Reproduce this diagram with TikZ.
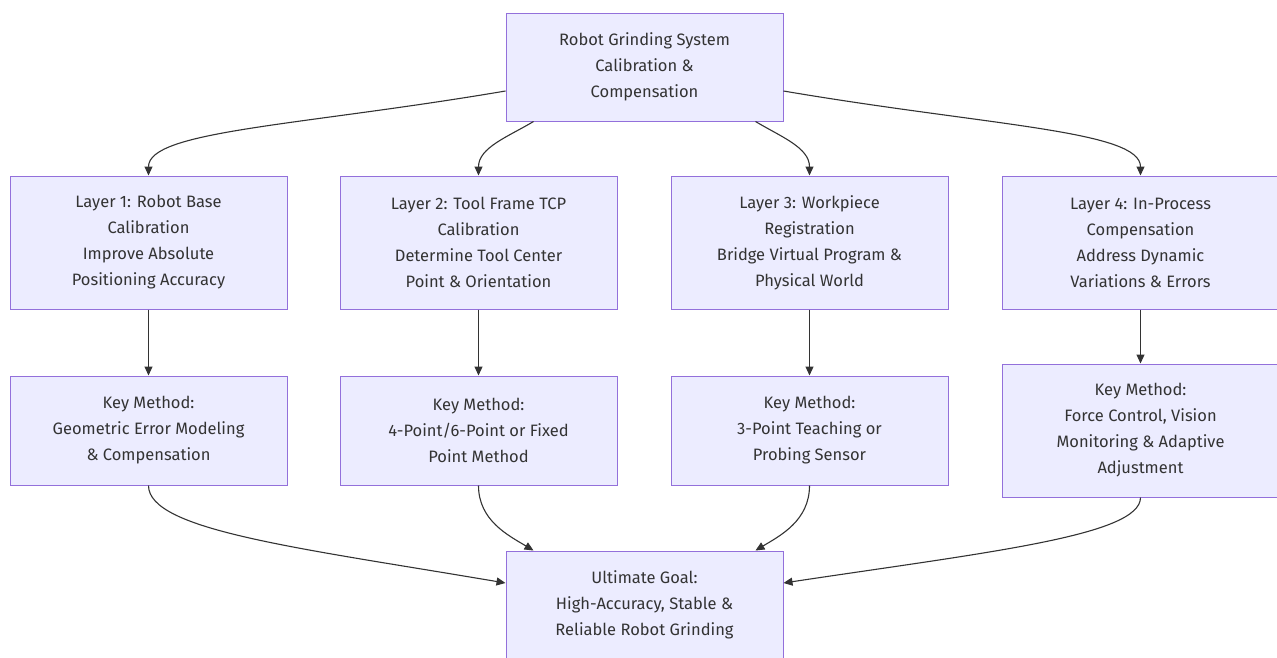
\documentclass[tikz,border=0pt]{standalone}
\usepackage{fontspec}
\setmainfont{Fira Sans}
\usetikzlibrary{arrows.meta}

\definecolor{boxfill}{HTML}{ECECFF}
\definecolor{boxline}{HTML}{9370DB}
\definecolor{txt}{HTML}{333333}

\tikzset{
  box/.style={draw=boxline, fill=boxfill, line width=1pt, text=txt,
    minimum width=277pt, align=center, inner sep=0pt,
    font=\fontsize{16.5}{26}\selectfont},
  link/.style={draw=txt, line width=1.1pt,
    -{Triangle[length=9pt,width=8pt]}}
}

\begin{document}
\begin{tikzpicture}[x=1pt,y=-1pt]
\useasboundingbox (0,0) rectangle (1277,657);

% Top
\node[box, minimum height=108pt] (top) at (644.5,67) {Robot Grinding System\\Calibration \&\\Compensation};

% Layers
\node[box, minimum height=133pt] (l1) at (148.5,242.5) {Layer 1: Robot Base\\Calibration\\Improve Absolute\\Positioning Accuracy};
\node[box, minimum height=133pt] (l2) at (478.5,242.5) {Layer 2: Tool Frame TCP\\Calibration\\Determine Tool Center\\Point \& Orientation};
\node[box, minimum height=133pt] (l3) at (809.5,242.5) {Layer 3: Workpiece\\Registration\\Bridge Virtual Program \&\\Physical World};
\node[box, minimum height=133pt] (l4) at (1140.5,242.5) {Layer 4: In-Process\\Compensation\\Address Dynamic\\Variations \& Errors};

% Key methods
\node[box, minimum height=109pt] (k1) at (148.5,430.5) {Key Method:\\Geometric Error Modeling\\\& Compensation};
\node[box, minimum height=109pt] (k2) at (478.5,430.5) {Key Method:\\4-Point/6-Point or Fixed\\Point Method};
\node[box, minimum height=109pt] (k3) at (809.5,430.5) {Key Method:\\3-Point Teaching or\\Probing Sensor};
\node[box, minimum height=133pt] (k4) at (1140.5,430.5) {Key Method:\\Force Control, Vision\\Monitoring \& Adaptive\\Adjustment};

% Goal
\node[box, minimum height=108pt] (goal) at (644.5,605) {Ultimate Goal:\\High-Accuracy, Stable \&\\Reliable Robot Grinding};

% Top to layers
\draw[link] ([yshift=-24pt]top.west) .. controls +(-206,35) and +(0,-45) .. (l1.north);
\draw[link] ([xshift=-111pt]top.south) .. controls +(-25,15) and +(0,-28) .. (l2.north);
\draw[link] ([xshift=111pt]top.south) .. controls +(25,15) and +(0,-28) .. (l3.north);
\draw[link] ([yshift=-24pt]top.east) .. controls +(206,35) and +(0,-45) .. (l4.north);

% Layers to key methods
\draw[link] (l1) -- (k1);
\draw[link] (l2) -- (k2);
\draw[link] (l3) -- (k3);
\draw[link] (l4) -- (k4);

% Key methods to goal
\draw[link] (k1.south) .. controls +(0,45) and +(-206,-35) .. ([yshift=22pt]goal.west);
\draw[link] (k2.south) .. controls +(0,35) and +(-25,-15) .. ([xshift=-111pt]goal.north);
\draw[link] (k3.south) .. controls +(0,35) and +(25,-15) .. ([xshift=111pt]goal.north);
\draw[link] (k4.south) .. controls +(0,38) and +(206,-31) .. ([yshift=22pt]goal.east);
\end{tikzpicture}
\end{document}
